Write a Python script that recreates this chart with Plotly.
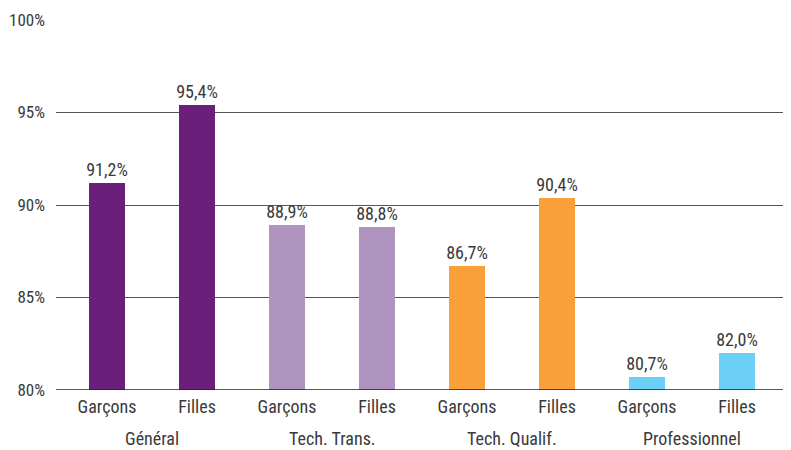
import plotly.graph_objects as go

groups = ["Général", "Tech. Trans.", "Tech. Qualif.", "Professionnel"]
sexes = ["Garçons", "Filles"]
values = [91.2, 95.4, 88.9, 88.8, 86.7, 90.4, 80.7, 82.0]
colors = ["#6a1f7a", "#6a1f7a", "#b094c0", "#b094c0", "#f9a03a", "#f9a03a", "#6ccff6", "#6ccff6"]
y_ticks = [80, 85, 90, 95, 100]

FONT = "Liberation Sans Narrow, Roboto Condensed, Arial Narrow, Liberation Sans, sans-serif"
TXT = "#3a3a3a"

xs = list(range(len(values)))
labels = [sexes[i % 2] for i in xs]
texts = [f"{v:.1f}%".replace(".", ",") for v in values]

fig = go.Figure()
fig.add_trace(go.Bar(
    x=xs, y=[v - 80 for v in values], base=80,
    width=0.4, marker=dict(color=colors, line=dict(width=0)),
    text=texts, textposition="outside", cliponaxis=False, constraintext="none",
    textfont=dict(family=FONT, size=18, color=TXT),
    hoverinfo="skip",
))

for gi, g in enumerate(groups):
    fig.add_annotation(x=gi * 2 + 0.5, xref="x", y=0, yref="paper", yanchor="middle",
                       yshift=-48, text=g, showarrow=False,
                       font=dict(family=FONT, size=18, color=TXT))

fig.update_layout(
    width=783, height=442,
    margin=dict(l=48, r=0, t=12, b=60),
    plot_bgcolor="white", paper_bgcolor="white",
    showlegend=False, bargap=0,
    xaxis=dict(range=[-0.567, 7.6], tickvals=xs, ticktext=labels, showgrid=False,
               zeroline=False, showline=False, ticks="", ticklabelstandoff=4,
               automargin=False,
               tickfont=dict(family=FONT, size=18, color=TXT)),
    yaxis=dict(range=[80, 100], tickvals=y_ticks, ticktext=[f"{t}%" for t in y_ticks],
               showgrid=True, gridcolor="#555555", gridwidth=1, zeroline=False,
               showline=False, ticks="", ticklabelstandoff=10, automargin=False,
               tickfont=dict(family=FONT, size=17, color=TXT)),
)
fig.add_shape(type="line", xref="paper", yref="y", x0=0, x1=1, y0=80, y1=80,
              line=dict(color="#222222", width=1.5), layer="above")

fig.write_html("out.html")
